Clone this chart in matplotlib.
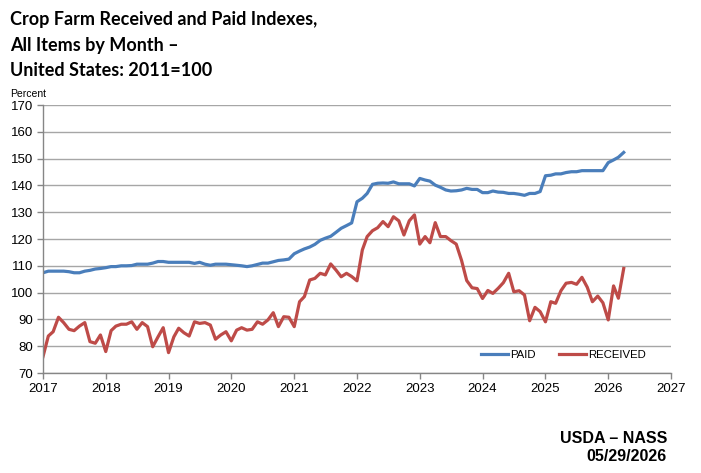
import matplotlib
matplotlib.use("Agg")
import matplotlib.pyplot as plt
import matplotlib.dates as mdates
import pandas as pd

paid = [
    107.4, 108.0, 108.0, 108.0, 108.0, 107.8, 107.4, 107.4, 108.0, 108.3, 108.8, 109.0,
    109.3, 109.7, 109.7, 110.0, 110.0, 110.1, 110.6, 110.6, 110.6, 111.0, 111.6, 111.6,
    111.3, 111.3, 111.3, 111.3, 111.3, 110.9, 111.3, 110.6, 110.2, 110.6, 110.6, 110.6,
    110.4, 110.2, 110.0, 109.7, 110.0, 110.5, 111.0, 111.0, 111.5, 112.0, 112.2, 112.5,
    114.5, 115.5, 116.3, 117.0, 118.0, 119.5, 120.3, 121.0, 122.5, 124.0, 125.0, 126.0,
    133.9, 135.2, 137.0, 140.4, 140.8, 140.9, 140.8, 141.3, 140.6, 140.6, 140.6, 139.8,
    142.6, 142.0, 141.6, 140.1, 139.3, 138.3, 137.9, 138.0, 138.3, 138.9, 138.5, 138.5,
    137.3, 137.3, 137.9, 137.5, 137.4, 137.0, 137.0, 136.7, 136.3, 137.0, 137.0, 137.7,
    143.6, 143.8, 144.3, 144.3, 144.8, 145.1, 145.1, 145.5, 145.5, 145.5, 145.5, 145.5,
    148.5, 149.5, 150.5, 152.3,
]

received = [
    76.1, 83.8, 85.4, 90.8, 88.8, 86.3, 85.8, 87.5, 88.8, 81.7, 81.1, 84.2,
    78.0, 85.8, 87.5, 88.2, 88.2, 89.1, 86.3, 88.8, 87.3, 79.8, 83.5, 86.9,
    77.6, 83.5, 86.7, 85.0, 83.8, 89.1, 88.5, 88.8, 87.9, 82.6, 84.2, 85.4,
    82.0, 86.0, 86.9, 86.0, 86.3, 89.1, 88.2, 89.8, 92.5, 87.3, 91.0, 90.8,
    87.3, 96.6, 98.5, 104.7, 105.3, 107.2, 106.6, 110.7, 108.4, 105.9, 107.2, 106.0,
    104.4, 115.9, 120.9, 123.1, 124.2, 126.5, 124.6, 128.3, 126.8, 121.5, 126.8, 129.0,
    118.1, 120.9, 118.6, 126.1, 120.9, 120.9, 119.4, 118.1, 112.0, 104.5, 101.8, 101.5,
    97.8, 100.8, 99.7, 101.6, 103.7, 107.2, 100.3, 100.7, 99.1, 89.5, 94.5, 92.9,
    89.1, 96.6, 96.0, 100.7, 103.5, 103.8, 103.1, 105.7, 102.0, 96.6, 98.7, 96.2,
    89.8, 102.5, 97.9, 109.0,
]

series_names = ["PAID", "RECEIVED"]
title_lines = ["Crop Farm Received and Paid Indexes,", "All Items by Month \u2013", "United States: 2011=100"]
y_label = "Percent"
source_lines = ["USDA \u2013 NASS", "05/29/2026"]

dates = pd.date_range("2017-01-01", periods=len(paid), freq="MS")

BLUE = "#4A7EBB"
RED = "#BE4B48"
GRID = "#A6A6A6"

fig = plt.figure(figsize=(7.01, 4.73), dpi=100)
ax = fig.add_axes([43 / 701, 100 / 473, 628 / 701, 268 / 473])

ax.plot(dates, paid, color=BLUE, lw=2.3, label=series_names[0], solid_joinstyle="round")
ax.plot(dates, received, color=RED, lw=2.3, label=series_names[1], solid_joinstyle="round")

ax.set_ylim(70, 170)
ax.set_yticks(range(70, 171, 10))
ax.set_xlim(pd.Timestamp("2017-01-01"), pd.Timestamp("2027-01-01"))
ax.xaxis.set_major_locator(mdates.YearLocator())
ax.xaxis.set_major_formatter(mdates.DateFormatter("%Y"))

ax.yaxis.grid(True, color=GRID, lw=1.0)
ax.xaxis.grid(False)
ax.set_axisbelow(True)
for s in ["top", "right"]:
    ax.spines[s].set_visible(False)
for s in ["left", "bottom"]:
    ax.spines[s].set_color("#868686")
    ax.spines[s].set_linewidth(1.0)
ax.tick_params(axis="both", direction="out", length=4, color="#868686", width=1.0,
               labelsize=9.5, labelcolor="black")
ax.tick_params(axis="x", pad=3)
ax.tick_params(axis="y", pad=3)
for lab in ax.get_xticklabels() + ax.get_yticklabels():
    lab.set_fontfamily("Liberation Sans")

leg = ax.legend(loc="center left", bbox_to_anchor=(481 / 701, 1 - 355 / 473),
                bbox_transform=fig.transFigure, ncol=2, frameon=False,
                prop={"family": "Liberation Sans", "size": 8.2},
                handlelength=2.4, handletextpad=0.2, columnspacing=2.0,
                borderaxespad=0, borderpad=0)

for i, line in enumerate(title_lines):
    fig.text(10 / 701, 1 - (25 + 25.5 * i) / 473, line, fontfamily="Lato",
             fontweight="bold", fontsize=13.0, ha="left", va="baseline")

fig.text(10 / 701, 1 - 97 / 473, y_label, fontfamily="Liberation Sans",
         fontsize=7.5, ha="left", va="baseline")

for i, line in enumerate(source_lines):
    fig.text(667 / 701, 1 - (443 + 18 * i) / 473, line, fontfamily="Liberation Sans",
             fontweight="bold", fontsize=11.5, ha="right", va="baseline")

fig.savefig("out.png", dpi=100)
